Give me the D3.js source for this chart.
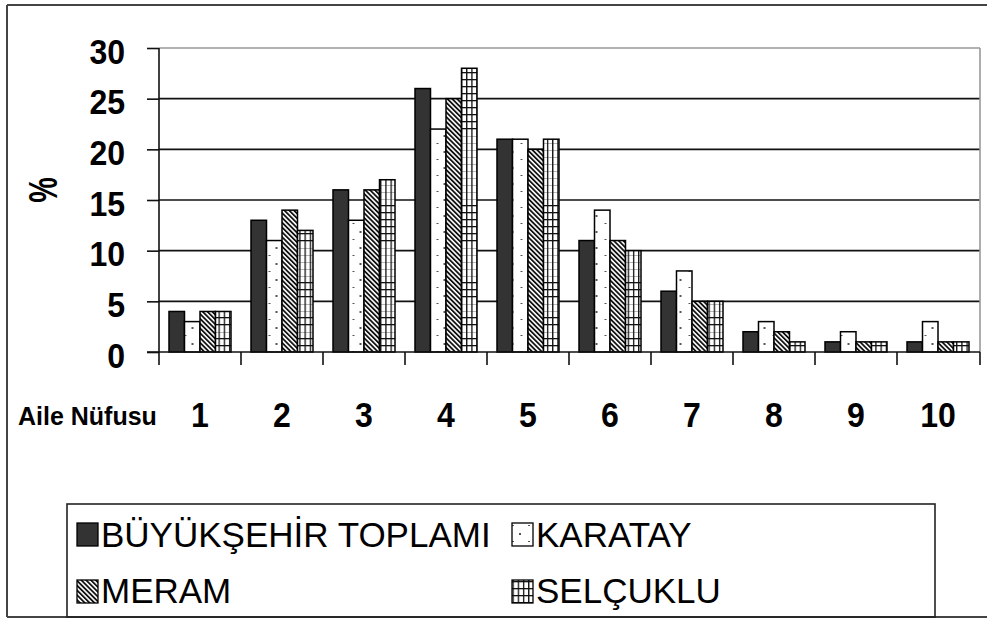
<!DOCTYPE html>
<html>
<head>
<meta charset="utf-8">
<script src="https://cdn.jsdelivr.net/npm/d3@7"></script>
<style>
  html, body { margin: 0; padding: 0; background: #fff; }
  svg { display: block; }
</style>
</head>
<body>
<svg id="chart" width="987" height="619"></svg>
<script>
// Household size distribution (%) per district
const categories = ["1", "2", "3", "4", "5", "6", "7", "8", "9", "10"];
const seriesNames = ["BÜYÜKŞEHİR TOPLAMI", "KARATAY", "MERAM", "SELÇUKLU"];
const buyuksehir = [4, 13, 16, 26, 21, 11, 6, 2, 1, 1];
const karatay    = [3, 11, 13, 22, 21, 14, 8, 3, 2, 3];
const meram      = [4, 14, 16, 25, 20, 11, 5, 2, 1, 1];
const selcuklu   = [4, 12, 17, 28, 21, 10, 5, 1, 1, 1];
const yTicks = [0, 5, 10, 15, 20, 25, 30];
const yTitle = "%";
const xTitle = "Aile Nüfusu";

const seriesValues = [buyuksehir, karatay, meram, selcuklu];
const rows = categories.map((c, i) => ({
  cat: c,
  vals: seriesNames.map((s, j) => ({ key: s, j, value: seriesValues[j][i] }))
}));

const svg = d3.select("#chart");
const plot = { left: 159, right: 980, top: 48, bottom: 352 };
const FONT = "'Liberation Sans', Arial, Helvetica, sans-serif";

const x0 = d3.scaleBand().domain(categories).range([plot.left, plot.right - 1]).padding(0);
const x1 = d3.scaleBand().domain(seriesNames).range([0, x0.bandwidth()])
  .paddingInner(0).paddingOuter(0.645);
const y = d3.scaleLinear().domain([0, 30]).range([plot.bottom, plot.top]);

const defs = svg.append("defs");

// dotted fill, anchored to a given x so the dots sit inside each bar
function dotPattern(id, ax, ay) {
  const p = defs.append("pattern").attr("id", id)
    .attr("patternUnits", "userSpaceOnUse")
    .attr("x", ax).attr("y", ay).attr("width", 16).attr("height", 16);
  p.append("rect").attr("width", 16).attr("height", 16).attr("fill", "#fff");
  p.append("rect").attr("x", 8).attr("y", 7).attr("width", 2).attr("height", 2).attr("fill", "#555");
  p.append("rect").attr("x", 1).attr("y", 15).attr("width", 2).attr("height", 1.6).attr("fill", "#555");
  return `url(#${id})`;
}
// square grid fill
function gridPattern(id, ax, ay) {
  const p = defs.append("pattern").attr("id", id)
    .attr("patternUnits", "userSpaceOnUse")
    .attr("x", ax).attr("y", ay).attr("width", 5.2).attr("height", 7);
  p.append("rect").attr("width", 5.2).attr("height", 7).attr("fill", "#fff");
  p.append("rect").attr("x", 0).attr("y", 0).attr("width", 1.3).attr("height", 7).attr("fill", "#111");
  p.append("rect").attr("x", 0).attr("y", 0).attr("width", 5.2).attr("height", 1.3).attr("fill", "#111");
  return `url(#${id})`;
}
// diagonal hatching, top-left to bottom-right
const hatch = defs.append("pattern").attr("id", "hatch")
  .attr("patternUnits", "userSpaceOnUse")
  .attr("width", 3.4).attr("height", 10)
  .attr("patternTransform", "rotate(-45)");
hatch.append("rect").attr("width", 3.4).attr("height", 10).attr("fill", "#fff");
hatch.append("rect").attr("width", 1.8).attr("height", 10).attr("fill", "#111");

function fillFor(j, bx, id) {
  if (j === 0) return "#333";
  if (j === 1) return dotPattern("dots-" + id, bx, plot.bottom);
  if (j === 2) return "url(#hatch)";
  return gridPattern("grid-" + id, bx, plot.bottom);
}

// outer frame
const frame = svg.append("g").attr("stroke", "#444").attr("stroke-width", 2).attr("fill", "none");
frame.append("line").attr("x1", 7).attr("x2", 987).attr("y1", 5).attr("y2", 5);
frame.append("line").attr("x1", 7).attr("x2", 7).attr("y1", 5).attr("y2", 617);
frame.append("line").attr("x1", 7).attr("x2", 987).attr("y1", 617).attr("y2", 617);

// gridlines
svg.append("g").selectAll("line").data(yTicks.filter(t => t > 0)).join("line")
  .attr("x1", plot.left).attr("x2", plot.right)
  .attr("y1", d => y(d)).attr("y2", d => y(d))
  .attr("stroke", d => d === 30 ? "#999" : "#111")
  .attr("stroke-width", 1.6);
svg.append("line")
  .attr("x1", plot.right).attr("x2", plot.right)
  .attr("y1", y(30)).attr("y2", y(0))
  .attr("stroke", "#999").attr("stroke-width", 1.6);

// bars
const groups = svg.append("g").selectAll("g").data(rows).join("g")
  .attr("transform", d => `translate(${x0(d.cat)},0)`);
groups.selectAll("rect").data((d, i) => d.vals.map(v => ({ ...v, ci: i, cx: x0(d.cat) }))).join("rect")
  .attr("x", d => x1(d.key))
  .attr("y", d => y(d.value))
  .attr("width", x1.bandwidth())
  .attr("height", d => y(0) - y(d.value))
  .attr("fill", d => fillFor(d.j, d.cx + x1(d.key), d.ci + "-" + d.j))
  .attr("stroke", "#000")
  .attr("stroke-width", 1.5);

// y axis
const yAxis = d3.axisLeft(y).tickValues(yTicks).tickSize(12).tickPadding(22).tickSizeOuter(0);
const yg = svg.append("g").attr("transform", `translate(${plot.left},0)`).call(yAxis);
yg.select(".domain").remove();
yg.selectAll(".tick line").attr("stroke", "#111").attr("stroke-width", 1.6);
yg.selectAll(".tick text")
  .attr("font-family", FONT).attr("font-size", 36).attr("font-weight", "bold")
  .attr("fill", "#000")
  .attr("transform", "scale(0.89,1)")
  .attr("x", -34 / 0.89).attr("dy", "0.42em");
svg.append("line")
  .attr("x1", plot.left).attr("x2", plot.left)
  .attr("y1", y(30)).attr("y2", y(0))
  .attr("stroke", "#111").attr("stroke-width", 1.6);

// x axis baseline and category separators
svg.append("line")
  .attr("x1", plot.left - 12).attr("x2", plot.right)
  .attr("y1", y(0)).attr("y2", y(0))
  .attr("stroke", "#111").attr("stroke-width", 1.6);
const bounds = categories.map(c => x0(c)).concat([plot.right]);
svg.append("g").selectAll("line").data(bounds).join("line")
  .attr("x1", d => d).attr("x2", d => d)
  .attr("y1", y(0)).attr("y2", y(0) + 13)
  .attr("stroke", "#111").attr("stroke-width", 1.6);

const xAxis = d3.axisBottom(x0).tickSize(0).tickSizeOuter(0);
const xg = svg.append("g").attr("transform", `translate(0,${y(0)})`).call(xAxis);
xg.select(".domain").remove();
xg.selectAll(".tick text")
  .attr("font-family", FONT).attr("font-size", 36).attr("font-weight", "bold")
  .attr("fill", "#000")
  .attr("transform", "scale(0.89,1)")
  .attr("y", 75).attr("dy", 0);

// axis titles
svg.append("text").text(xTitle)
  .attr("x", 18).attr("y", 425)
  .attr("font-family", FONT).attr("font-size", 25).attr("font-weight", "bold");
svg.append("text").text(yTitle)
  .attr("transform", "translate(57,190) rotate(-90) scale(0.72,1)")
  .attr("text-anchor", "middle")
  .attr("font-family", FONT).attr("font-size", 40).attr("font-weight", "bold");

// legend
svg.append("rect")
  .attr("x", 67).attr("y", 504).attr("width", 868).attr("height", 113)
  .attr("fill", "none").attr("stroke", "#222").attr("stroke-width", 1.6);
const legendPos = [
  { x: 77, y: 523, ty: 547 },
  { x: 512, y: 523, ty: 547 },
  { x: 77, y: 580, ty: 603 },
  { x: 512, y: 580, ty: 603 }
];
seriesNames.forEach((s, j) => {
  const p = legendPos[j];
  let f;
  if (j === 0) f = "#333";
  else if (j === 1) f = dotPattern("dots-leg", p.x - 1, p.y + 3);
  else if (j === 2) f = "url(#hatch)";
  else f = gridPattern("grid-leg", p.x + 0.5, p.y + 1);
  svg.append("rect")
    .attr("x", p.x).attr("y", p.y).attr("width", 21).attr("height", 23)
    .attr("fill", f).attr("stroke", "#000").attr("stroke-width", 1.3);
  svg.append("text").text(s)
    .attr("x", p.x + 24).attr("y", p.ty)
    .attr("font-family", FONT).attr("font-size", 35).attr("fill", "#000");
});
</script>
</body>
</html>
